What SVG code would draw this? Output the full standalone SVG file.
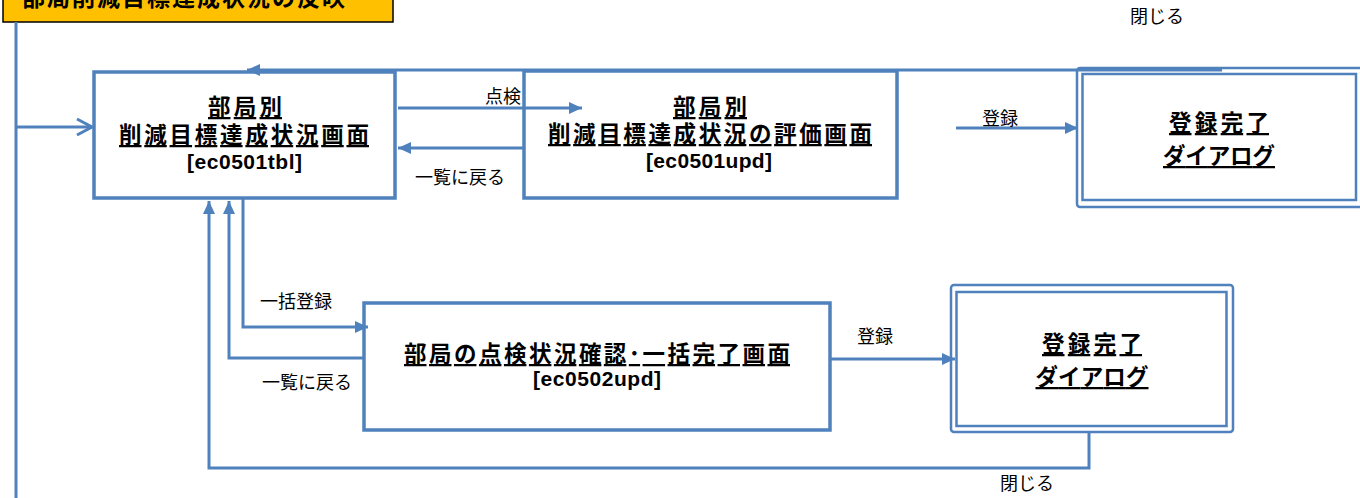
<svg xmlns="http://www.w3.org/2000/svg" width="1360" height="498" viewBox="0 0 1360 498">
<style>
.box{fill:#fff;stroke:#4F81BD;stroke-width:3.5}
.dlg{fill:none;stroke:#4F81BD;stroke-width:2.5}
.con{fill:none;stroke:#4F81BD;stroke-width:3}
.ttl{font-family:"Noto Sans CJK JP","Noto Sans",sans-serif;font-weight:700;font-size:22.5px;fill:#000;text-anchor:middle;text-decoration:underline}
.code{font-family:"Liberation Sans",Arial,sans-serif;font-weight:700;font-size:21px;fill:#000;text-anchor:middle}
.lbl{font-family:"Noto Sans CJK JP","Noto Sans",sans-serif;font-size:18px;fill:#000}
</style>
<defs>
<marker id="ah" markerUnits="userSpaceOnUse" markerWidth="14" markerHeight="14" refX="13" refY="7" orient="auto">
<path d="M0,1 L13,7 L0,13 z" fill="#4F81BD"/>
</marker>
<marker id="open" markerUnits="userSpaceOnUse" markerWidth="20" markerHeight="20" refX="16" refY="10" orient="auto">
<path d="M1,2 L16,10 L1,18" fill="none" stroke="#4F81BD" stroke-width="3"/>
</marker>
</defs>

<g id="title">
<rect x="3" y="-12" width="390" height="34" fill="#FFC000" stroke="#000" stroke-width="1.5"/>
<text x="22" y="6" textLength="323" lengthAdjust="spacing" style="font-family:'Noto Sans CJK JP',sans-serif;font-weight:700;font-size:23px;fill:#000">部局削減目標達成状況の反映</text>
</g>

<g id="ec0501tbl">
<rect class="box" x="94" y="72" width="301" height="126"/>
<text class="ttl" x="245" y="115" textLength="74" lengthAdjust="spacing">部局別</text>
<text class="ttl" x="244" y="143" textLength="250" lengthAdjust="spacing">削減目標達成状況画面</text>
<text class="code" x="244.5" y="169" textLength="115" lengthAdjust="spacing">[ec0501tbl]</text>
</g>

<g id="ec0501upd">
<rect class="box" x="524" y="71" width="373" height="127"/>
<text class="ttl" x="710" y="115" textLength="74" lengthAdjust="spacing">部局別</text>
<text class="ttl" x="710" y="142" textLength="324" lengthAdjust="spacing">削減目標達成状況の評価画面</text>
<text class="code" x="709" y="168" textLength="126" lengthAdjust="spacing">[ec0501upd]</text>
</g>

<g id="dialog1">
<rect class="dlg" x="1077" y="68" width="290" height="139" rx="3"/>
<rect class="dlg" x="1082.5" y="74" width="273.5" height="126"/>
<text class="ttl" x="1219" y="131" textLength="100" lengthAdjust="spacing">登録完了</text>
<text class="ttl" x="1219" y="164" textLength="112" lengthAdjust="spacing">ダイアログ</text>
</g>

<g id="ec0502upd">
<rect class="box" x="364" y="303" width="466" height="127"/>
<text class="ttl" x="597" y="362" textLength="386" lengthAdjust="spacing">部局の点検状況確認･一括完了画面</text>
<text class="code" x="597" y="386" textLength="128" lengthAdjust="spacing">[ec0502upd]</text>
</g>

<g id="dialog2">
<rect class="dlg" x="951" y="285" width="282" height="147" rx="3"/>
<rect class="dlg" x="956.5" y="292" width="270" height="134"/>
<text class="ttl" x="1092" y="352" textLength="100" lengthAdjust="spacing">登録完了</text>
<text class="ttl" x="1092" y="385" textLength="113" lengthAdjust="spacing">ダイアログ</text>
</g>

<g id="connectors">
<path class="con" d="M16,22 V498"/>
<path class="con" d="M16,127 H92" marker-end="url(#open)"/>
<path class="con" d="M398,108 H582" marker-end="url(#ah)"/>
<path class="con" d="M524,148 H398" marker-end="url(#ah)"/>
<path class="con" d="M1222,70 H247" marker-end="url(#ah)"/>
<path class="con" d="M956,128 H1078" marker-end="url(#ah)"/>
<path class="con" d="M243,199 V327 H368" marker-end="url(#ah)"/>
<path class="con" d="M364,358 H229 V201" marker-end="url(#ah)"/>
<path class="con" d="M1089,432 V468 H209 V201" marker-end="url(#ah)"/>
<path class="con" d="M831,359 H955" marker-end="url(#ah)"/>
<text class="lbl" x="485" y="103">点検</text>
<text class="lbl" x="415" y="184">一覧に戻る</text>
<text class="lbl" x="1130" y="23">閉じる</text>
<text class="lbl" x="982" y="125">登録</text>
<text class="lbl" x="260" y="308">一括登録</text>
<text class="lbl" x="262" y="389">一覧に戻る</text>
<text class="lbl" x="857" y="343">登録</text>
<text class="lbl" x="1000" y="490">閉じる</text>
</g>
</svg>
